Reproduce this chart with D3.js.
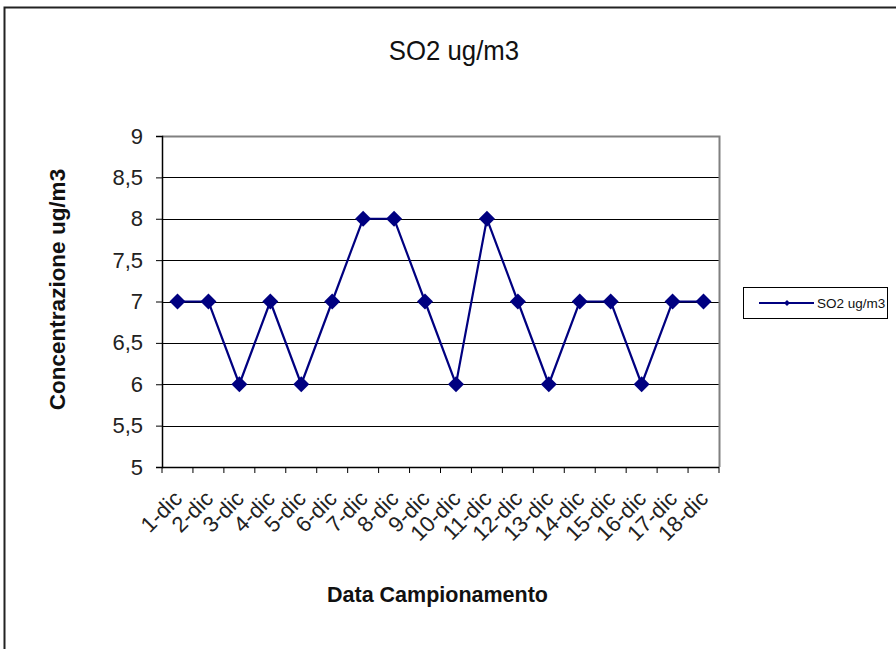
<!DOCTYPE html>
<html><head><meta charset="utf-8">
<script src="https://cdn.jsdelivr.net/npm/d3@7"></script>
<style>body{margin:0;background:#fff}svg{display:block}text{font-family:"Liberation Sans",Arial,sans-serif}</style>
</head><body><svg id="c" width="896" height="649"></svg>
<script>
const categories = ["1-dic","2-dic","3-dic","4-dic","5-dic","6-dic","7-dic","8-dic","9-dic","10-dic","11-dic","12-dic","13-dic","14-dic","15-dic","16-dic","17-dic","18-dic"];
const so2Values = [7,7,6,7,6,7,8,8,7,6,8,7,6,7,7,6,7,7];
const yTicks = [5,5.5,6,6.5,7,7.5,8,8.5,9];
const seriesName = "SO2 ug/m3";
const chartTitle = "SO2 ug/m3";
const xTitle = "Data Campionamento";
const yTitle = "Concentrazione ug/m3";

const svg = d3.select("#c");
const L=162, R=719, T=136, B=467;
const x = d3.scaleBand().domain(categories).range([L,R]);
const y = d3.scaleLinear().domain([5,9]).range([B,T]);
const navy = "#000080";

// outer frame (right and bottom edges fall outside the picture)
svg.append("rect").attr("x",4.5).attr("y",7.5).attr("width",900).attr("height",700)
  .attr("fill","#fff").attr("stroke","#222").attr("stroke-width",2);

// gridlines
svg.append("g").selectAll("line").data(yTicks.filter(d=>d>5&&d<9)).join("line")
  .attr("x1",L).attr("x2",R).attr("y1",d=>Math.round(y(d))+0.5).attr("y2",d=>Math.round(y(d))+0.5)
  .attr("stroke","#000").attr("stroke-width",1);
// plot border top/right gray
svg.append("path").attr("d",`M${L},${T+0.5}H${R+0.5}V${B}`).attr("fill","none").attr("stroke","#808080").attr("stroke-width",2);

// y axis
const yAxis = d3.axisLeft(y).tickValues(yTicks).tickSize(6).tickPadding(13)
  .tickFormat(d=>String(d).replace(".",","));
const gy = svg.append("g").attr("transform",`translate(${L},0)`).call(yAxis);
gy.select(".domain").attr("stroke","#000").attr("stroke-width",1.5);
gy.selectAll(".tick line").attr("stroke","#000");
gy.selectAll("text").attr("font-size",22).attr("fill","#222").attr("font-family","'Liberation Sans',Arial,sans-serif");

// x axis
const gx = svg.append("g").attr("transform",`translate(0,${B})`);
gx.append("line").attr("x1",L).attr("x2",R).attr("y1",0.5).attr("y2",0.5).attr("stroke","#000").attr("stroke-width",1.5);
const bounds = categories.map(c=>x(c)).concat([R]);
gx.selectAll("line.tk").data(bounds).join("line").attr("class","tk")
  .attr("x1",d=>d).attr("x2",d=>d).attr("y1",0).attr("y2",6).attr("stroke","#000");
gx.selectAll("text").data(categories).join("text")
  .attr("transform",d=>`translate(${x(d)+x.bandwidth()/2+6},33) rotate(-45)`)
  .attr("text-anchor","end").attr("font-size",22).attr("fill","#222").text(d=>d);

// line
const line = d3.line().x((d,i)=>x(categories[i])+x.bandwidth()/2).y(d=>y(d));
svg.append("path").datum(so2Values).attr("d",line).attr("fill","none").attr("stroke",navy).attr("stroke-width",2.2);
svg.append("g").selectAll("path").data(so2Values).join("path")
  .attr("d",d3.symbol().type(d3.symbolSquare).size(128))
  .attr("transform",(d,i)=>`translate(${x(categories[i])+x.bandwidth()/2},${y(d)}) rotate(45)`)
  .attr("fill",navy);

// titles
svg.append("text").attr("transform","translate(454,60) scale(0.92,1)").attr("text-anchor","middle").attr("font-size",28).attr("fill","#111").text(chartTitle);
svg.append("text").attr("x",437.5).attr("y",602).attr("text-anchor","middle").attr("font-size",21.5).attr("font-weight","bold").attr("fill","#111").text(xTitle);
svg.append("text").attr("transform","translate(64.5,289.5) rotate(-90)").attr("text-anchor","middle").attr("font-size",22.5).attr("font-weight","bold").attr("fill","#111").text(yTitle);

// legend
const lg = svg.append("g");
lg.append("rect").attr("x",743.5).attr("y",287.5).attr("width",144).attr("height",31).attr("fill","#fff").attr("stroke","#000");
lg.append("line").attr("x1",759).attr("x2",814).attr("y1",303).attr("y2",303).attr("stroke",navy).attr("stroke-width",2);
lg.append("path").attr("d",d3.symbol().type(d3.symbolSquare).size(18)).attr("transform","translate(787,303) rotate(45)").attr("fill",navy);
lg.append("text").attr("x",817).attr("y",307.5).attr("font-size",13.5).attr("fill","#111").text(seriesName);
</script></body></html>
